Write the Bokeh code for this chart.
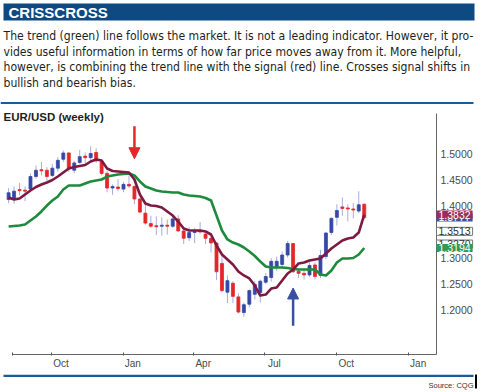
import pandas as pd
from bokeh.plotting import figure
from bokeh.models import (Range1d, FixedTicker, DatetimeTickFormatter, NumeralTickFormatter,
                          Label, BoxAnnotation, Arrow, NormalHead, ColumnDataSource)
from bokeh.embed import file_html
from bokeh.resources import INLINE

# ---------------- data ----------------
weeks = pd.date_range("2009-08-07", periods=66, freq="7D")

opens = [1.412, 1.413, 1.431, 1.430, 1.432, 1.456, 1.469, 1.468, 1.458, 1.472,
         1.489, 1.501, 1.468, 1.483, 1.495, 1.492, 1.502, 1.484, 1.462, 1.434,
         1.436, 1.432, 1.441, 1.437, 1.413, 1.386, 1.366, 1.362, 1.361, 1.363,
         1.361, 1.375, 1.352, 1.339, 1.349, 1.352, 1.346, 1.338, 1.329, 1.290,
         1.235, 1.252, 1.226, 1.196, 1.212, 1.231, 1.234, 1.254, 1.263, 1.282,
         1.288, 1.306, 1.328, 1.275, 1.271, 1.268, 1.287, 1.267, 1.303, 1.349,
         1.378, 1.398, 1.396, 1.394, 1.390, 1.403]
highs = [1.434, 1.437, 1.444, 1.437, 1.462, 1.477, 1.484, 1.474, 1.480, 1.493,
         1.506, 1.503, 1.486, 1.507, 1.502, 1.514, 1.510, 1.488, 1.467, 1.441,
         1.451, 1.446, 1.458, 1.439, 1.416, 1.404, 1.381, 1.380, 1.378, 1.374,
         1.383, 1.382, 1.358, 1.359, 1.358, 1.369, 1.350, 1.345, 1.331, 1.309,
         1.267, 1.256, 1.233, 1.215, 1.240, 1.256, 1.259, 1.272, 1.300, 1.303,
         1.313, 1.333, 1.329, 1.281, 1.280, 1.292, 1.292, 1.316, 1.350, 1.378,
         1.403, 1.416, 1.403, 1.405, 1.428, 1.405]
lows = [1.405, 1.404, 1.420, 1.409, 1.428, 1.452, 1.458, 1.448, 1.455, 1.465,
        1.484, 1.465, 1.462, 1.480, 1.480, 1.483, 1.482, 1.458, 1.426, 1.421,
        1.428, 1.426, 1.434, 1.403, 1.386, 1.364, 1.358, 1.344, 1.343, 1.345,
        1.358, 1.350, 1.327, 1.333, 1.329, 1.347, 1.327, 1.311, 1.258, 1.235,
        1.214, 1.214, 1.194, 1.188, 1.206, 1.221, 1.215, 1.250, 1.255, 1.275,
        1.283, 1.301, 1.272, 1.262, 1.259, 1.264, 1.259, 1.262, 1.298, 1.344,
        1.362, 1.381, 1.370, 1.376, 1.386, 1.374]
closes = [1.425, 1.428, 1.429, 1.428, 1.456, 1.468, 1.467, 1.456, 1.472, 1.487,
          1.501, 1.472, 1.482, 1.494, 1.492, 1.500, 1.486, 1.462, 1.434, 1.437,
          1.433, 1.441, 1.438, 1.413, 1.388, 1.367, 1.361, 1.360, 1.363, 1.361,
          1.375, 1.352, 1.338, 1.349, 1.351, 1.350, 1.338, 1.329, 1.274, 1.238,
          1.257, 1.227, 1.197, 1.211, 1.238, 1.250, 1.256, 1.265, 1.294, 1.294,
          1.306, 1.328, 1.274, 1.271, 1.268, 1.286, 1.265, 1.305, 1.348, 1.376,
          1.391, 1.395, 1.394, 1.392, 1.402, 1.3777]

# signal (red) line
signal = [1.4159, 1.4120, 1.4140, 1.4216, 1.4293, 1.4360, 1.4408, 1.4446, 1.4494, 1.4560,
          1.4637, 1.4713, 1.4742, 1.4761, 1.4780, 1.4847, 1.4885, 1.4866, 1.4713, 1.4666,
          1.4656, 1.4646, 1.4637, 1.4503, 1.4216, 1.4045, 1.4006, 1.3997, 1.3968, 1.3892,
          1.3815, 1.3700, 1.3567, 1.3529, 1.3529, 1.3529, 1.3510, 1.3452, 1.3242, 1.3070,
          1.2974, 1.2879, 1.2745, 1.2669, 1.2612, 1.2477, 1.2286, 1.2305, 1.2420, 1.2439,
          1.2573, 1.2707, 1.2783, 1.2898, 1.2917, 1.2955, 1.2974, 1.2993, 1.3089, 1.3185,
          1.3261, 1.3337, 1.3376, 1.3395, 1.3490, 1.3832]
# trend (green) line
trend = [1.3605, 1.3615, 1.3624, 1.3643, 1.3720, 1.3796, 1.3892, 1.4006, 1.4102, 1.4178,
         1.4312, 1.4388, 1.4388, 1.4388, 1.4427, 1.4465, 1.4484, 1.4503, 1.4560, 1.4580,
         1.4599, 1.4608, 1.4618, 1.4580, 1.4465, 1.4369, 1.4331, 1.4293, 1.4274, 1.4264,
         1.4255, 1.4255, 1.4216, 1.4197, 1.4188, 1.4178, 1.4150, 1.4102, 1.3815, 1.3529,
         1.3357, 1.3299, 1.3261, 1.3204, 1.3127, 1.3041, 1.2936, 1.2840, 1.2821, 1.2821,
         1.2821, 1.2812, 1.2793, 1.2783, 1.2783, 1.2783, 1.2783, 1.2687, 1.2669, 1.2764,
         1.2917, 1.2993, 1.2993, 1.3003, 1.3070, 1.3194]

y_ticks = [1.20, 1.25, 1.30, 1.35, 1.40, 1.45, 1.50]
quarter_starts = ["2009-10-01", "2010-01-01", "2010-04-01", "2010-07-01", "2010-10-01", "2011-01-01"]
quarter_label_days = ["2009-10-13", "2010-01-13", "2010-04-13", "2010-07-13", "2010-10-13", "2011-01-13"]

# price tags on the right axis: (value, text, fill, border, text colour)
tags = [(1.3777, "1.3777", "#3d4ea6", None, "white"),
        (1.3832, "1.3832", "#9c2c5d", None, "white"),
        (1.3270, "1.3270", "white", "#777777", "#333333"),
        (1.3513, "1.3513", "white", "#777777", "#333333"),
        (1.3194, "1.3194", "#2f9a5a", None, "white")]

sell_cross_week = 23     # red arrow (signal crosses below trend)
buy_cross_week = 52      # blue arrow (signal crosses above trend)

title_text = "CRISSCROSS"
body_lines = ["The trend (green) line follows the market. It is not a leading indicator. However, it pro-",
              "vides useful information in terms of how far price moves away from it. More helpful,",
              "however, is combining the trend line with the signal (red) line. Crosses signal shifts in",
              "bullish and bearish bias."]
chart_label = "EUR/USD (weekly)"
source_text = "Source: CQG"


def ms(d):
    return pd.Timestamp(d).value // 10**6


W, H = 480, 390
# scale: the canvas doubles as the plot frame
jan = pd.Timestamp("2010-01-01")
px_per_day = 0.7816
x_start = jan - pd.Timedelta(days=123 / px_per_day)
x_end = jan + pd.Timedelta(days=(W - 123) / px_per_day)
axis_right = jan + pd.Timedelta(days=(436 - 123) / px_per_day)
axis_left = pd.Timestamp("2009-08-12")
px_per_unit = 523.3
y_top = 1.5 + 153 / px_per_unit
y_bottom = 1.5 - (H - 153) / px_per_unit
chart_bottom = 1.5 - (354 - 153) / px_per_unit
chart_top = 1.5 + (153 - 113) / px_per_unit

p = figure(width=W, height=H, x_axis_type="datetime",
           x_range=Range1d(x_start, x_end), y_range=Range1d(y_bottom, y_top),
           y_axis_location="right", output_backend="svg", toolbar_location=None,
           min_border_left=0, min_border_right=0, min_border_top=0, min_border_bottom=0,
           outline_line_color=None, background_fill_color="white", border_fill_color="white")
p.xgrid.visible = False
p.ygrid.visible = False

xa = p.xaxis[0]
xa.fixed_location = chart_bottom
xa.ticker = FixedTicker(ticks=[ms(d) for d in quarter_label_days],
                        minor_ticks=[ms(d) for d in quarter_starts] + [ms(axis_left)])
xa.formatter = DatetimeTickFormatter(milliseconds="%b", seconds="%b", minsec="%b", minutes="%b",
                                     hourmin="%b", hours="%b", days="%b", months="%b", years="%b")
xa.major_tick_line_color = None
xa.major_tick_in = 0
xa.major_tick_out = 0
xa.minor_tick_in = 2
xa.minor_tick_out = 1
xa.minor_tick_line_color = "#555555"
xa.axis_line_color = "#666666"
xa.bounds = (ms(axis_left), ms(axis_right))
xa.major_label_standoff = 2
xa.major_label_text_font = "Liberation Sans"
xa.major_label_text_font_size = "10px"
xa.major_label_text_color = "#4a4a4a"

ya = p.yaxis[0]
ya.fixed_location = ms(axis_right)
ya.bounds = (chart_bottom, chart_top)
ya.ticker = FixedTicker(ticks=y_ticks)
ya.formatter = NumeralTickFormatter(format="0.0000")
ya.major_tick_in = 0
ya.major_tick_out = 0
ya.minor_tick_in = 0
ya.minor_tick_out = 0
ya.axis_line_color = "#666666"
ya.major_label_standoff = 4
ya.major_label_text_font = "Liberation Sans"
ya.major_label_text_font_size = "10.5px"
ya.major_label_text_color = "#4a4a4a"

# ---------------- candles ----------------
src = ColumnDataSource(dict(week=weeks, open=opens, high=highs, low=lows, close=closes))
up = [i for i in range(len(weeks)) if closes[i] >= opens[i]]
dn = [i for i in range(len(weeks)) if closes[i] < opens[i]]
up_src = ColumnDataSource(dict(week=[weeks[i] for i in up], top=[closes[i] for i in up],
                               bottom=[opens[i] for i in up]))
dn_src = ColumnDataSource(dict(week=[weeks[i] for i in dn], top=[opens[i] for i in dn],
                               bottom=[closes[i] for i in dn]))
body_w = 3.8 * 24 * 3600 * 1000

p.segment(x0="week", y0="high", x1="week", y1="low", source=src, line_color="#a9aedb", line_width=1)
p.vbar(x="week", width=body_w, top="top", bottom="bottom", source=up_src,
       fill_color="#3548a6", line_color="#3548a6", line_width=0.8)
p.vbar(x="week", width=body_w, top="top", bottom="bottom", source=dn_src,
       fill_color="#e52629", line_color="#e52629", line_width=0.8)

p.line(weeks, trend, line_color="#1e8a3c", line_width=2.6, line_join="round")
p.line(weeks, signal, line_color="#7c1a3f", line_width=2.6, line_join="round")

# arrows
wx = ms(weeks[sell_cross_week])
p.add_layout(Arrow(end=NormalHead(size=11, fill_color="#e5262b", line_color="#e5262b"),
                   x_start=wx, y_start=1.552, x_end=wx, y_end=1.490,
                   line_color="#e5262b", line_width=2.5))
bx = ms(weeks[buy_cross_week])
p.add_layout(Arrow(end=NormalHead(size=11, fill_color="#3b4ea6", line_color="#3b4ea6"),
                   x_start=bx, y_start=1.171, x_end=bx, y_end=1.243,
                   line_color="#3b4ea6", line_width=2.5))

# price tags
for val, txt, fill, border, tcol in tags:
    p.add_layout(Label(x=436, y=val, x_units="screen", y_units="data", text=txt,
                       text_font="Liberation Sans", text_font_size="10.5px", text_color=tcol,
                       text_baseline="middle", text_align="left",
                       background_fill_color=fill, border_line_color=border,
                       padding=dict(left=2, right=2, top=0, bottom=0)))


# ---------------- header / footer (screen units, y measured up from bottom) ----------------
def sy(y_ref):
    return H - y_ref


def band(x0, x1, y0, y1, color):
    p.add_layout(BoxAnnotation(left=x0, right=x1, top=sy(y0), bottom=sy(y1),
                               left_units="screen", right_units="screen",
                               top_units="screen", bottom_units="screen",
                               fill_color=color, fill_alpha=1, line_color=None))


band(3, 474, 3, 20, "#0d4a82")
p.add_layout(Label(x=8, y=sy(11.5), x_units="screen", y_units="screen", text=title_text,
                   text_font="Liberation Sans", text_font_style="bold", text_font_size="15px",
                   text_color="white", text_baseline="middle"))
for k, line in enumerate(body_lines):
    p.add_layout(Label(x=3, y=sy(35.7 + 15.5 * k), x_units="screen", y_units="screen", text=line,
                       text_font="'Liberation Sans Narrow', 'DejaVu Sans Condensed', Lato",
                       text_font_size="12.1px", text_color="#231f20", text_baseline="middle"))
band(0, 473, 101.5, 103.5, "#1f5a94")
p.add_layout(Label(x=3, y=sy(116.5), x_units="screen", y_units="screen", text=chart_label,
                   text_font="Liberation Sans", text_font_style="bold", text_font_size="11.5px",
                   text_color="#231f20", text_baseline="middle"))
band(3, 473, 374.3, 376.5, "#1f5a94")
band(474.5, 476.5, 374, 388, "black")
p.add_layout(Label(x=473, y=sy(385), x_units="screen", y_units="screen", text=source_text,
                   text_font="Liberation Sans", text_font_size="7.5px", text_color="#333333",
                   text_baseline="middle", text_align="right"))

open("out.html", "w").write(file_html(p, INLINE))
